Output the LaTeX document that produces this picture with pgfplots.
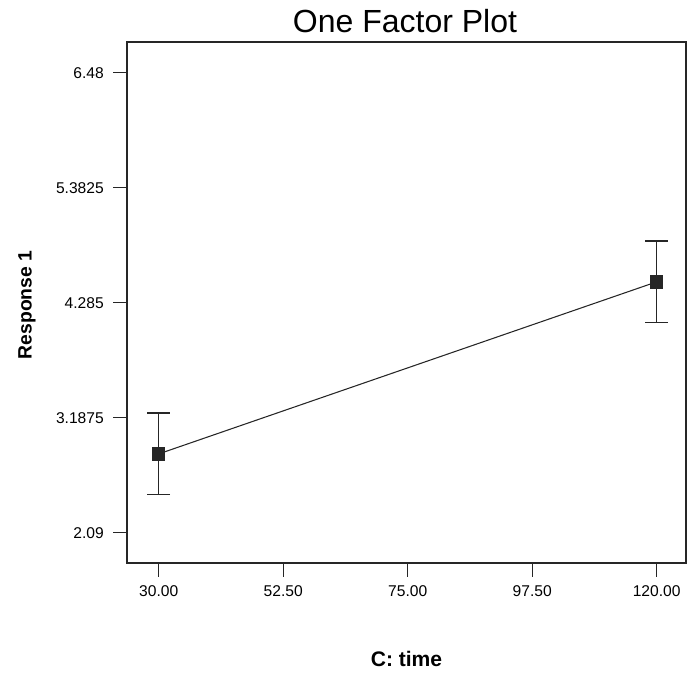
\documentclass[border=0pt]{standalone}
\usepackage{fontspec}
\setmainfont{Liberation Sans}
\usepackage{pgfplots}
\pgfplotsset{compat=1.18}
\begin{document}
\begin{tikzpicture}
\begin{axis}[
  at={(0,0)}, anchor=south west,
  scale only axis, width=419.25pt, height=390.75pt,
  xmin=24.27, xmax=125.3, ymin=1.801, ymax=6.773,
  axis line style={line width=1.4pt, black!85},
  xtick={30,52.5,75,97.5,120},
  xticklabels={30.00,52.50,75.00,97.50,120.00},
  ytick={2.09,3.1875,4.285,5.3825,6.48},
  yticklabels={2.09,3.1875,4.285,5.3825,6.48},
  tick align=outside, xtick pos=bottom, ytick pos=left,
  major tick length=10.5pt,
  tick style={line width=0.9pt, black!85},
  /pgf/number format/assume math mode=true,
  ticklabel style={font=\fontsize{11.7}{13}\selectfont, inner sep=0pt},
  yticklabel style={xshift=-6.75pt},
  xticklabel style={yshift=-6pt},
  xlabel={C: time},
  xlabel style={at={(axis description cs:0.5,0)}, anchor=base, yshift=-77.8pt, font=\bfseries\fontsize{15.8}{18}\selectfont},
]
\addplot[black!85, line width=0.8pt, mark=square*, mark size=4.6pt,
  mark options={solid, fill=black!85},
  error bars/.cd, y dir=both, y explicit,
  error bar style={line width=0.8pt, black!85},
  error mark options={rotate=90, mark size=8.6pt, line width=0.9pt, black!85}]
coordinates {(30,2.842) +- (0,0.391) (120,4.484) +- (0,0.39)};
\end{axis}
\node[anchor=base, font=\fontsize{24}{28}\selectfont] at (208.5pt,397.5pt) {One Factor Plot};
\node[rotate=90, anchor=base, font=\bfseries\fontsize{14.5}{17}\selectfont] at (-71.5pt,193.5pt) {Response 1};
\pgfresetboundingbox
\path[use as bounding box] (-95.25pt,-83.25pt) rectangle (420pt,422.25pt);
\end{tikzpicture}
\end{document}
